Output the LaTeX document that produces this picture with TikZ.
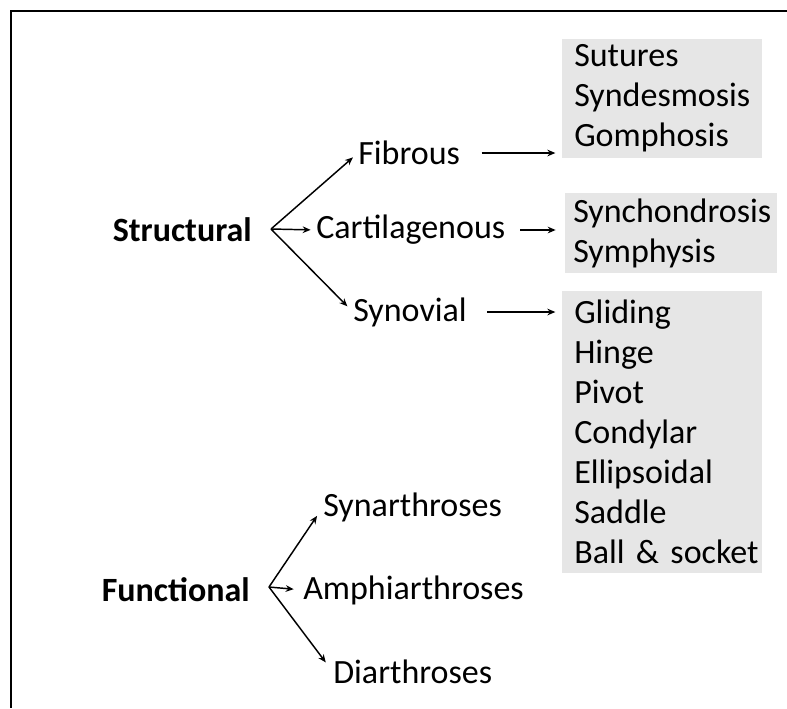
\documentclass[tikz,border=0pt]{standalone}
\usepackage{fontspec}
\setmainfont{Carlito}
\usepackage{tikz}
\usetikzlibrary{arrows.meta, positioning, calc}
\definecolor{boxgray}{RGB}{230, 230, 230}

\begin{document}
\begin{tikzpicture}[
  x=0.75pt, y=-0.75pt,
  lbl/.style={inner sep=0pt, font=\fontsize{25.5}{30}\selectfont},
  head/.style={lbl, font=\fontsize{25.5}{30}\selectfont\bfseries},
  listbox/.style={fill=boxgray, inner ysep=0pt, inner xsep=9pt, text width=132pt, align=left, anchor=north west, minimum width=150pt, font=\fontsize{25.5}{30}\selectfont},
  arr/.style={-{Stealth[length=6pt, width=5pt]}, line width=1.1pt},
]
  \useasboundingbox (0,0) rectangle (787,708);
  \draw[line width=2.2pt] (787,11) -- (11,11) -- (11,708);

  % structural classes
  \node[head, anchor=east] (struct) at (252,230) {Structural};
  \coordinate (sroot) at (271,229);
  \node[lbl, anchor=west] (fib)  at (358,153) {Fibrous};
  \node[lbl, anchor=west] (cart) at (316,230) {Cartilagenous};
  \node[lbl, anchor=west] (syn)  at (353,312) {Synovial};
  \draw[arr, shorten >=5pt] (sroot) -- (fib.west);
  \draw[arr, shorten >=4pt] (sroot) -- (cart.west);
  \draw[arr, shorten >=6pt] (sroot) -- (syn.west);

  \node[listbox, minimum height=89pt] (fiblist) at (562,39) {Sutures\\Syndesmosis\\Gomphosis};
  \node[listbox, minimum height=60pt, inner xsep=6pt, text width=147pt, minimum width=159pt] (cartlist) at (565,193) {\mbox{Synchondrosis}\\Symphysis};
  \node[listbox, minimum height=211.5pt] (synlist) at (562,291) {Gliding\\Hinge\\Pivot\\Condylar\\Ellipsoidal\\Saddle\\\mbox{Ball \& socket}};
  \draw[arr, shorten <=16pt, shorten >=5pt] (fib.east) -- (fib.east -| fiblist.west);
  \draw[arr, shorten <=11pt, shorten >=7pt] (cart.east) -- (cart.east -| cartlist.west);
  \draw[arr, shorten <=15pt, shorten >=5pt] (syn.east) -- (syn.east -| synlist.west);

  % functional classes
  \node[head, anchor=east] (func) at (250,590) {Functional};
  \coordinate (froot) at (269,587);
  \node[lbl, anchor=west] (synar) at (323,507) {Synarthroses};
  \node[lbl, anchor=west] (amph)  at (303,590) {Amphiarthroses};
  \node[lbl, anchor=west] (diar)  at (333,672) {Diarthroses};
  \draw[arr, shorten >=8pt] (froot) -- (synar.west);
  \draw[arr, shorten >=7pt] (froot) -- (amph.west);
  \draw[arr, shorten >=9pt] (froot) -- (diar.west);
\end{tikzpicture}
\end{document}
